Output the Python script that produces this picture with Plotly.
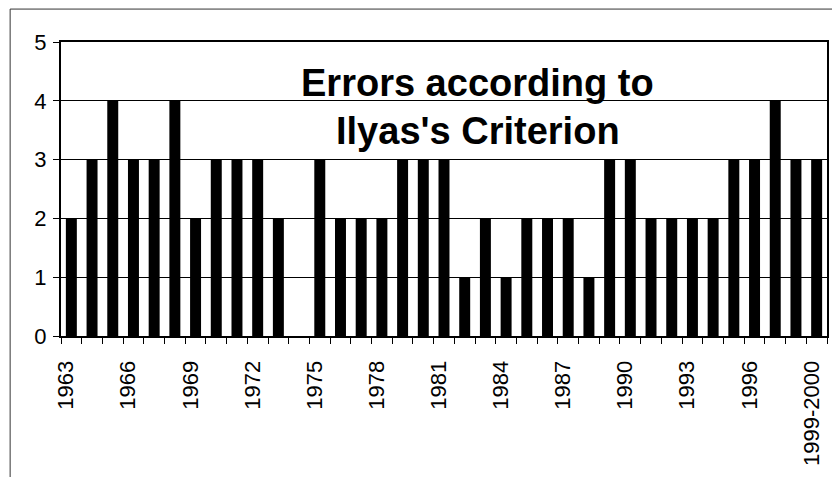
import plotly.graph_objects as go

years = [str(y) for y in range(1963, 1999)] + ["1999-2000"]
errors = [2, 3, 4, 3, 3, 4, 2, 3, 3, 3, 2, 0, 3, 2, 2, 2, 3, 3, 3, 1,
          2, 1, 2, 2, 2, 1, 3, 3, 2, 2, 2, 2, 3, 3, 4, 3, 3]
label_step = 3
title_lines = ["Errors according to", "Ilyas's Criterion"]

idx = list(range(len(years)))
tick_idx = idx[::label_step]
LABEL_SHIFT = -0.25  # rotated labels sit slightly left of bar centres

FONT = "Liberation Sans, Arial, sans-serif"

fig = go.Figure()
fig.add_trace(go.Bar(x=idx, y=errors, marker=dict(color="black", line=dict(width=0)),
                     hoverinfo="x+y"))

# page body has an 8px default margin, so the figure is 8px smaller than the window
fig.update_layout(
    width=832, height=469,
    margin=dict(l=53, r=11, t=34, b=140),
    paper_bgcolor="white", plot_bgcolor="white",
    bargap=0.47,
    showlegend=False,
    font=dict(family=FONT, color="black"),
)

fig.update_xaxes(
    range=[-0.5, len(years) - 0.5],
    tickmode="array",
    tickvals=[i + LABEL_SHIFT for i in tick_idx],
    ticktext=[years[i] for i in tick_idx],
    tickangle=-90,
    tickfont=dict(size=22, family=FONT, color="black"),
    ticks="",
    ticklabelstandoff=14,
    minor=dict(tickmode="array",
               tickvals=[i - 0.5 for i in range(len(years) + 1)],
               ticks="outside", ticklen=6, tickcolor="black", tickwidth=1,
               showgrid=False),
    showgrid=False, zeroline=False,
    showline=True, linecolor="black", linewidth=2, mirror=True,
)
fig.update_yaxes(
    range=[0, 5], dtick=1, tick0=0,
    tickfont=dict(size=22, family=FONT, color="black"),
    ticks="outside", ticklen=6, tickcolor="black",
    ticklabelstandoff=2,
    showgrid=True, gridcolor="black", gridwidth=1,
    zeroline=False,
    showline=True, linecolor="black", linewidth=2, mirror=True,
)

# outer chart border
fig.add_shape(type="rect", xref="paper", yref="paper",
              x0=-0.0664, x1=1.0085, y0=-0.49, y1=1.112,
              line=dict(color="#333333", width=1), layer="below")

for text, yv in zip(title_lines, [4.297, 3.483]):
    fig.add_annotation(text="<b>%s</b>" % text, xref="paper", yref="y",
                       x=0.544, y=yv, xanchor="center", yanchor="middle",
                       showarrow=False, font=dict(size=38, family=FONT, color="black"))

fig.write_html("out.html")
